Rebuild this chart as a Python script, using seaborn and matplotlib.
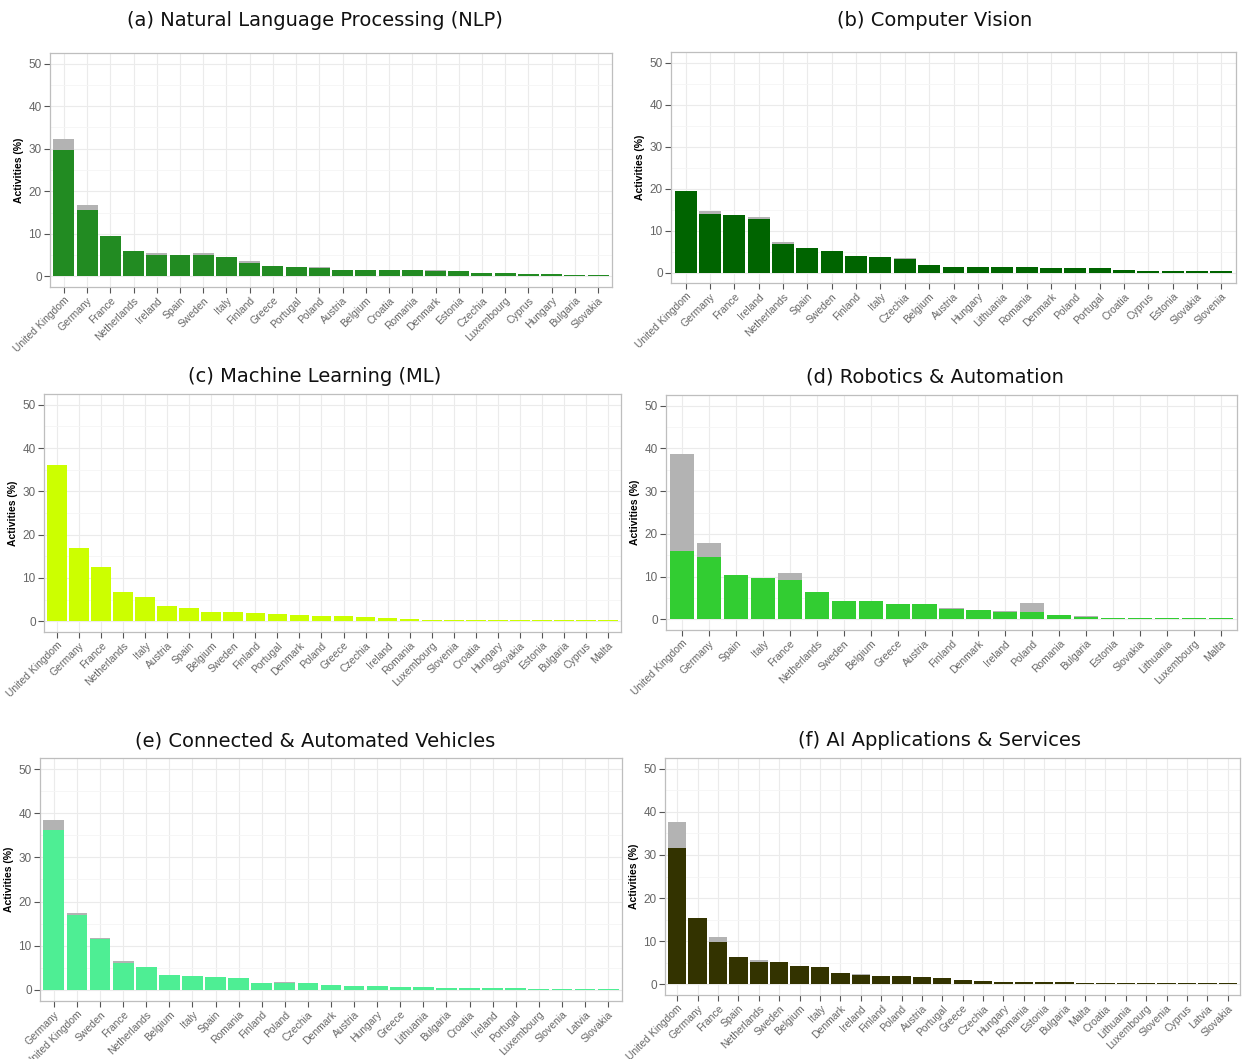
import matplotlib
matplotlib.use("Agg")
import matplotlib.pyplot as plt
import seaborn as sns
import pandas as pd
from matplotlib.ticker import MultipleLocator

# (a) NLP
nlp_countries = ["United Kingdom", "Germany", "France", "Netherlands", "Ireland", "Spain", "Sweden",
                 "Italy", "Finland", "Greece", "Portugal", "Poland", "Austria", "Belgium", "Croatia",
                 "Romania", "Denmark", "Estonia", "Czechia", "Luxembourg", "Cyprus", "Hungary",
                 "Bulgaria", "Slovakia"]
nlp_main = [29.8, 15.7, 9.4, 5.9, 5.0, 5.0, 5.0, 4.5, 3.2, 2.5, 2.1, 1.9, 1.4, 1.4, 1.4, 1.4,
            1.2, 1.2, 0.8, 0.8, 0.5, 0.5, 0.3, 0.3]
nlp_total = [32.3, 16.7, 9.4, 5.9, 5.6, 5.0, 5.4, 4.5, 3.6, 2.5, 2.1, 2.2, 1.4, 1.4, 1.4, 1.4,
             1.4, 1.2, 0.8, 0.9, 0.5, 0.6, 0.3, 0.3]

# (b) Computer Vision
cv_countries = ["United Kingdom", "Germany", "France", "Ireland", "Netherlands", "Spain", "Sweden",
                "Finland", "Italy", "Czechia", "Belgium", "Austria", "Hungary", "Lithuania",
                "Romania", "Denmark", "Poland", "Portugal", "Croatia", "Cyprus", "Estonia",
                "Slovakia", "Slovenia"]
cv_main = [19.5, 14.0, 13.6, 12.7, 6.9, 5.9, 5.2, 4.0, 3.6, 3.3, 1.7, 1.3, 1.3, 1.3, 1.3, 1.0,
           1.0, 1.0, 0.6, 0.3, 0.3, 0.3, 0.3]
cv_total = [19.5, 14.7, 13.6, 13.3, 7.2, 5.9, 5.2, 4.0, 3.6, 3.4, 1.7, 1.3, 1.3, 1.3, 1.3, 1.0,
            1.0, 1.0, 0.6, 0.3, 0.3, 0.3, 0.3]

# (c) Machine Learning
ml_countries = ["United Kingdom", "Germany", "France", "Netherlands", "Italy", "Austria", "Spain",
                "Belgium", "Sweden", "Finland", "Portugal", "Denmark", "Poland", "Greece",
                "Czechia", "Ireland", "Romania", "Luxembourg", "Slovenia", "Croatia", "Hungary",
                "Slovakia", "Estonia", "Bulgaria", "Cyprus", "Malta"]
ml_main = [36.0, 16.8, 12.6, 6.8, 5.7, 3.5, 3.0, 2.2, 2.2, 2.0, 1.6, 1.5, 1.3, 1.2, 1.0, 0.8,
           0.4, 0.25, 0.25, 0.25, 0.25, 0.25, 0.2, 0.2, 0.2, 0.2]
ml_total = [36.1, 16.8, 12.6, 6.8, 5.7, 3.5, 3.0, 2.2, 2.2, 2.0, 1.6, 1.5, 1.3, 1.2, 1.0, 0.8,
            0.4, 0.25, 0.25, 0.25, 0.25, 0.25, 0.2, 0.2, 0.2, 0.2]

# (d) Robotics & Automation
ra_countries = ["United Kingdom", "Germany", "Spain", "Italy", "France", "Netherlands", "Sweden",
                "Belgium", "Greece", "Austria", "Finland", "Denmark", "Ireland", "Poland",
                "Romania", "Bulgaria", "Estonia", "Slovakia", "Lithuania", "Luxembourg", "Malta"]
ra_main = [15.9, 14.6, 10.4, 9.6, 9.3, 6.3, 4.2, 4.2, 3.5, 3.5, 2.4, 2.1, 1.8, 1.6, 1.0, 0.5,
           0.4, 0.4, 0.4, 0.4, 0.4]
ra_total = [38.7, 17.8, 10.4, 9.6, 10.8, 6.3, 4.2, 4.2, 3.5, 3.5, 2.7, 2.1, 1.9, 3.9, 1.0, 0.8,
            0.4, 0.4, 0.4, 0.4, 0.4]

# (e) Connected & Automated Vehicles
cav_countries = ["Germany", "United Kingdom", "Sweden", "France", "Netherlands", "Belgium", "Italy",
                 "Spain", "Romania", "Finland", "Poland", "Czechia", "Denmark", "Austria",
                 "Hungary", "Greece", "Lithuania", "Bulgaria", "Croatia", "Ireland", "Portugal",
                 "Luxembourg", "Slovenia", "Latvia", "Slovakia"]
cav_main = [36.2, 16.9, 11.5, 6.2, 5.1, 3.3, 3.1, 3.0, 2.7, 1.6, 1.6, 1.5, 1.2, 0.8, 0.8, 0.7,
            0.6, 0.4, 0.4, 0.4, 0.4, 0.3, 0.3, 0.2, 0.2]
cav_total = [38.5, 17.4, 11.8, 6.6, 5.1, 3.3, 3.1, 3.0, 2.8, 1.6, 1.7, 1.5, 1.2, 0.8, 0.8, 0.7,
             0.6, 0.4, 0.4, 0.4, 0.4, 0.3, 0.3, 0.2, 0.2]

# (f) AI Applications & Services
ais_countries = ["United Kingdom", "Germany", "France", "Spain", "Netherlands", "Sweden", "Belgium",
                 "Italy", "Denmark", "Ireland", "Finland", "Poland", "Austria", "Portugal",
                 "Greece", "Czechia", "Hungary", "Romania", "Estonia", "Bulgaria", "Malta",
                 "Croatia", "Lithuania", "Luxembourg", "Slovenia", "Cyprus", "Latvia", "Slovakia"]
ais_main = [31.6, 15.3, 9.8, 6.3, 5.2, 5.1, 4.3, 4.0, 2.5, 2.2, 2.0, 1.8, 1.6, 1.4, 0.9, 0.7,
            0.6, 0.6, 0.6, 0.5, 0.3, 0.3, 0.3, 0.3, 0.3, 0.3, 0.3, 0.2]
ais_total = [37.7, 15.3, 10.9, 6.3, 5.6, 5.1, 4.3, 4.0, 2.6, 2.3, 2.0, 1.8, 1.6, 1.5, 0.9, 0.7,
             0.6, 0.6, 0.6, 0.5, 0.3, 0.3, 0.3, 0.3, 0.3, 0.3, 0.3, 0.2]

sns.set_style("white")
plt.rcParams['font.family'] = ['Liberation Sans', 'DejaVu Sans']

W, H = 1242, 1059
fig = plt.figure(figsize=(W / 100, H / 100), dpi=100)


def box(l, r, t, b):
    return [l / W, 1 - b / H, (r - l) / W, (b - t) / H]


panels = [
    ("(a) Natural Language Processing (NLP)", nlp_countries, nlp_main, nlp_total, "#228B22",
     box(50, 612, 53, 287), (315, 20)),
    ("(b) Computer Vision", cv_countries, cv_main, cv_total, "#006400",
     box(671, 1236, 52, 283), (935, 20)),
    ("(c) Machine Learning (ML)", ml_countries, ml_main, ml_total, "#CCFF00",
     box(44, 621, 394, 632), (315, 377)),
    ("(d) Robotics & Automation", ra_countries, ra_main, ra_total, "#32CD32",
     box(666, 1237, 395, 630), (935, 377)),
    ("(e) Connected & Automated Vehicles", cav_countries, cav_main, cav_total, "#4EEE94",
     box(40, 622, 758, 1001), (315, 741)),
    ("(f) AI Applications & Services", ais_countries, ais_main, ais_total, "#333300",
     box(665, 1240, 758, 995), (940, 741)),
]

for title, countries, main, total, color, pos, tpos in panels:
    ax = fig.add_axes(pos)
    df = pd.DataFrame({"country": countries, "main": main, "total": total})
    sns.barplot(data=df, x="country", y="total", color="#B3B3B3", width=0.9, saturation=1,
                linewidth=0, errorbar=None, ax=ax)
    sns.barplot(data=df, x="country", y="main", color=color, width=0.9, saturation=1,
                linewidth=0, errorbar=None, ax=ax)
    n = len(countries)
    ax.set_xlim(-0.6, n - 0.4)
    ax.set_ylim(-2.5, 52.5)
    ax.set_yticks([0, 10, 20, 30, 40, 50])
    ax.yaxis.set_minor_locator(MultipleLocator(5))
    ax.set_axisbelow(True)
    ax.grid(True, which="major", color="#EBEBEB", linewidth=0.8)
    ax.grid(True, which="minor", axis="y", color="#F5F5F5", linewidth=0.6)
    for s in ax.spines.values():
        s.set_color("#BEBEBE")
        s.set_linewidth(0.9)
    ax.tick_params(axis="both", which="major", direction="out", length=4, width=0.8,
                   color="#555555", labelcolor="#666666", labelsize=8.5, pad=2, bottom=True, left=True)
    ax.tick_params(axis="y", which="minor", length=0)
    ax.set_xticks(range(n))
    ax.set_xticklabels(countries, rotation=45, ha="right", rotation_mode="anchor", fontsize=7.5)
    ax.set_xlabel("")
    ax.set_ylabel("Activities (%)", fontsize=7.5, fontweight="bold", color="black", labelpad=3)
    fig.text(tpos[0] / W, 1 - tpos[1] / H, title, ha="center", va="center", fontsize=14,
             family=["DejaVu Sans"], color="#111111")

fig.savefig("out.png", dpi=100)
